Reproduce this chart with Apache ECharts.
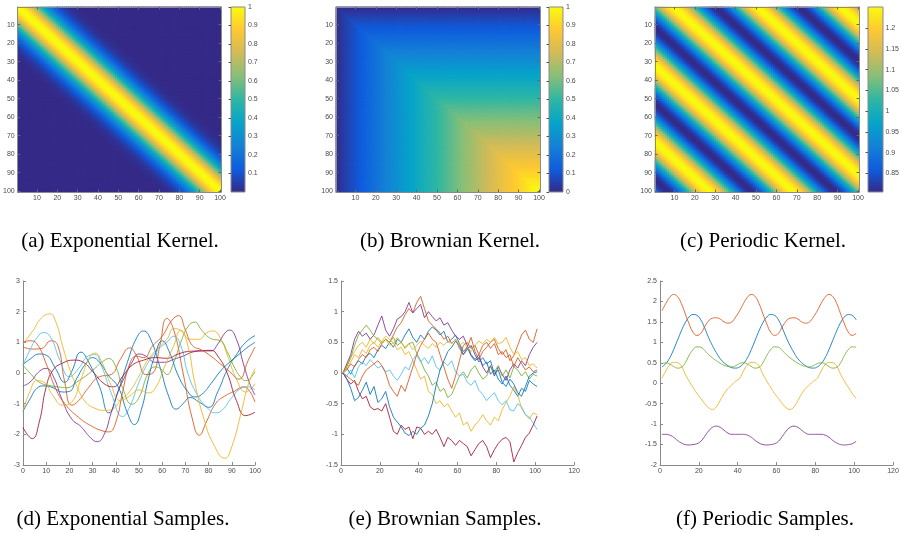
<!DOCTYPE html>
<html>
<head>
<meta charset="utf-8">
<script src="https://cdn.jsdelivr.net/npm/echarts@6/dist/echarts.min.js"></script>
<style>
html,body{margin:0;padding:0;background:#fff}
#main{width:902px;height:533px}
</style>
</head>
<body>
<div id="main"></div>
<script>
// kernel profiles
const expProfile = [1.00,0.994,0.976,0.946,0.906,0.857,0.80,0.739,0.674,0.607,0.539,0.474,0.411,0.353,0.298,0.249,0.206,0.168,0.135,0.108,0.085,0.066,0.05,0.038,0.029,0.021,0.015,0.011,0.008,0.006,0.004,0.003];
const brownProfile = [0.01,0.02,0.03,0.04,0.05,0.06,0.07,0.08,0.09,0.10,0.11,0.12,0.13,0.14,0.15,0.16,0.17,0.18,0.19,0.20,
  0.21,0.22,0.23,0.24,0.25,0.26,0.27,0.28,0.29,0.30,0.31,0.32,0.33,0.34,0.35,0.36,0.37,0.38,0.39,0.40,
  0.41,0.42,0.43,0.44,0.45,0.46,0.47,0.48,0.49,0.50,0.51,0.52,0.53,0.54,0.55,0.56,0.57,0.58,0.59,0.60,
  0.61,0.62,0.63,0.64,0.65,0.66,0.67,0.68,0.69,0.70,0.71,0.72,0.73,0.74,0.75,0.76,0.77,0.78,0.79,0.80,
  0.81,0.82,0.83,0.84,0.85,0.86,0.87,0.88,0.89,0.90,0.91,0.92,0.93,0.94,0.95,0.96,0.97,0.98,0.99,1.00];
const periodicProfile = [1.071,1.103,1.135,1.163,1.189,1.210,1.228,1.240,1.248,1.251,1.248,1.240,1.228,1.210,1.189,1.163,1.135,1.103,1.071,1.036,1.002,
  0.969,0.937,0.907,0.880,0.856,0.836,0.821,0.811,0.806,0.806,0.811,0.821,0.836,0.856,0.880,0.907,0.937,0.969,1.002,1.036];

const cbarTicksExp = [0, 1, 0.1];
const cbarTicksBrown = [0, 1, 0.1];
const cbarTicksPer = [0.8, 1.25, 0.05];

// (d) exponential samples  [x, y]
const expBlueA = [[0,0.27],[3,0.45],[7,0.62],[10,0.58],[14,0.15],[18,-0.3],[21,0.05],[25,0.68],[28,0.4],[33,-0.45],[37,-1.3],[41,-0.6],[45,0.35],[49,1.15],[52,1.37],[55,1.1],[59,0.2],[63,-0.8],[66,-1.18],[69,-1.0],[72,-0.8],[76,-0.95],[80,-1.12],[84,-0.6],[88,0.1],[92,0.6],[96,1.0],[100,1.22]];
const expOrangeA = [[0,0.85],[4,0.78],[8,0.8],[12,1.05],[15,0.9],[18,-0.3],[21,-1.05],[24,-0.9],[28,-0.5],[33,-0.12],[38,-0.05],[42,0.45],[46,0.82],[49,0.55],[53,-0.05],[56,0.0],[59,0.9],[62,1.78],[65,1.4],[69,0.0],[73,-1.5],[76,-2.03],[79,-1.6],[83,-1.0],[87,-0.75],[91,-0.6],[95,-0.45],[100,-0.95]];
const expYellowA = [[0,0.95],[4,1.35],[8,1.8],[11.5,1.93],[14,1.7],[17,0.9],[20,0.15],[23,-0.4],[27,-0.95],[31,-1.15],[35,-1.22],[38,-1.2],[42,-0.9],[46,-0.6],[50,-0.1],[54,0.45],[58,0.8],[62,1.1],[65,1.45],[68,1.38],[72,1.1],[76,1.1],[79,1.3],[82,1.37],[85,1.15],[88,0.6],[92,-0.2],[96,-0.62],[100,-0.35]];
const expPurple = [[0,-0.42],[3,-0.3],[7,0.05],[10,0.15],[13,-0.1],[17,-0.9],[21,-1.5],[25,-1.75],[29,-2.1],[32,-2.24],[35,-2.0],[38,-1.3],[41,-0.6],[44,-0.1],[47,0.35],[50,0.62],[53,0.55],[57,0.35],[61,0.35],[65,0.45],[69,0.55],[73,0.68],[77,0.72],[81,0.72],[84,0.95],[87,1.3],[89,1.4],[92,1.1],[95,0.3],[98,-0.4],[100,-0.72]];
const expGreen = [[0,0.25],[3,0.0],[7,-0.3],[11,-0.4],[15,-0.45],[19,-0.48],[23,-0.3],[27,-0.1],[31,0.15],[34,0.35],[37,0.47],[40,0.2],[43,-0.5],[47,-1.02],[50,-0.8],[54,0.0],[57,0.2],[60,0.1],[62,-0.05],[65,0.35],[68,1.0],[71,1.5],[74,1.66],[77,1.4],[81,1.12],[85,1.05],[88,0.7],[91,0.2],[94,-0.15],[96,-0.25],[100,0.05]];
const expLightBlue = [[0,0.25],[3,0.75],[6,1.15],[9,1.32],[12,1.15],[16,0.4],[20,-0.12],[24,0.15],[28,0.55],[31,0.6],[34,0.2],[38,-0.65],[43,-1.42],[46,-1.1],[50,-0.3],[54,0.35],[58,0.75],[62,1.0],[65,1.2],[68,0.9],[71,0.0],[75,-0.7],[79,-1.1],[83,-1.3],[86,-1.2],[90,-0.8],[94,-0.5],[97,-0.45],[100,-0.55]];
const expDarkRed = [[0,-1.78],[4,-2.14],[7,-1.6],[10,-0.45],[13,0.1],[17,0.32],[22,0.42],[26,0.35],[30,0.05],[35,-0.35],[39,-0.45],[43,-0.1],[47,0.25],[52,0.42],[57,0.5],[62,0.48],[67,0.62],[71,0.7],[76,0.72],[81,0.74],[84,0.55],[88,0.0],[92,-0.9],[96,-1.39],[100,-1.28]];
const expBlueB = [[0,-1.25],[3,-0.85],[6,-0.5],[9,-0.42],[13,-0.48],[17,-0.62],[20,-0.6],[23,-0.2],[27,0.3],[30,0.5],[33,0.35],[37,-0.1],[41,-0.45],[45,-1.3],[48,-1.68],[51,-1.2],[54,-0.2],[57,0.6],[60,1.05],[63,0.7],[67,-0.1],[71,-0.6],[74,-0.78],[77,-0.7],[81,-0.35],[85,0.05],[89,0.35],[93,0.6],[97,0.85],[100,1.0]];
const expOrangeB = [[0,1.0],[3,1.05],[6,0.95],[10,0.3],[14,-0.5],[18,-1.0],[24,-1.45],[30,-1.75],[34,-1.88],[37,-1.92],[40,-1.6],[43,-0.6],[46,0.3],[49,0.55],[52,0.5],[56,0.9],[60,1.2],[64,1.7],[67,1.87],[70,1.4],[73,0.9],[77,0.75],[81,0.55],[85,0.3],[89,0.05],[93,-0.2],[97,0.4],[100,0.85]];
const expYellowB = [[0,-1.25],[3,-0.6],[6,-0.25],[9,-0.3],[13,-0.75],[17,-1.05],[21,-0.95],[25,-0.2],[29,0.55],[31,0.65],[34,0.35],[38,-0.4],[42,-0.9],[46,-0.75],[50,-0.55],[54,-0.65],[57,-0.5],[61,0.2],[65,0.9],[68,1.4],[71,0.9],[74,-0.3],[78,-1.5],[82,-2.3],[87,-2.78],[90,-2.4],[94,-1.3],[97,-0.4],[100,0.15]];

// (e) brownian samples, at t = 1, 3, ..., 101
const brBlueA = [0,0.08,-0.02,0.12,0.2,0.15,0.28,0.32,0.25,0.38,0.45,0.4,0.5,0.42,0.55,0.5,0.62,0.72,0.58,0.5,0.62,0.55,0.68,0.75,0.7,0.62,0.68,0.5,0.55,0.62,0.48,0.35,0.42,0.28,0.2,0.25,0.12,0.18,-0.02,0.05,-0.1,-0.18,-0.05,-0.2,-0.28,-0.38,-0.25,-0.3,-0.12,-0.18,-0.22];
const brOrangeA = [0,0.05,0.15,0.1,0.22,0.3,0.25,0.38,0.42,0.35,0.48,0.55,0.5,0.62,0.75,0.82,0.95,1.05,0.98,1.15,1.25,1.05,0.85,0.78,0.72,0.65,0.55,0.6,0.48,0.55,0.4,0.3,0.42,0.58,0.35,0.22,0.35,0.42,0.5,0.55,0.4,0.3,0.38,0.2,0.28,0.45,0.62,0.7,0.55,0.5,0.72];
const brYellowA = [0,0.12,0.25,0.35,0.45,0.5,0.42,0.55,0.48,0.58,0.5,0.55,0.45,0.5,0.38,0.42,0.3,0.35,0.2,0.05,-0.1,-0.05,-0.3,-0.35,-0.5,-0.45,-0.55,-0.5,-0.62,-0.72,-0.65,-0.85,-0.8,-0.95,-0.85,-0.78,-0.68,-0.78,-0.85,-0.72,-0.78,-0.6,-0.48,-0.38,-0.22,-0.35,-0.58,-0.68,-0.75,-0.65,-0.68];
const brPurple = [0,0.15,0.3,0.55,0.68,0.6,0.65,0.55,0.62,0.78,0.93,0.7,0.6,0.72,0.88,0.92,1.0,1.15,0.98,1.05,1.12,0.9,1.0,0.92,0.85,0.9,0.78,0.82,0.7,0.6,0.55,0.6,0.45,0.3,0.22,0.3,0.1,0.0,0.12,-0.05,0.1,-0.02,-0.12,0.05,0.15,0.08,0.2,0.12,0.3,0.42,0.5];
const brGreen = [0,0.1,0.25,0.45,0.62,0.7,0.78,0.7,0.6,0.55,0.48,0.55,0.5,0.58,0.45,0.5,0.4,0.48,0.5,0.32,0.2,0.05,-0.05,-0.2,-0.15,-0.3,-0.25,-0.4,-0.35,-0.2,-0.05,0.02,-0.08,0.05,0.12,0.0,-0.1,-0.05,0.1,0.02,0.12,-0.05,0.05,-0.08,0.1,0.05,-0.05,0.02,-0.1,-0.02,-0.05];
const brLightBlue = [0,-0.05,0.05,-0.08,0.1,0.18,0.12,0.22,0.15,0.08,0.12,0.02,0.05,-0.05,-0.12,-0.02,0.1,0.05,0.22,0.3,0.18,0.25,0.15,0.28,0.1,0.05,0.18,0.12,0.2,0.02,-0.05,-0.02,-0.15,-0.2,-0.12,-0.28,-0.35,-0.45,-0.38,-0.32,-0.45,-0.52,-0.45,-0.6,-0.62,-0.5,-0.55,-0.68,-0.72,-0.82,-0.92];
const brDarkRed = [0,-0.1,-0.18,-0.12,-0.3,-0.42,-0.38,-0.55,-0.6,-0.58,-0.62,-0.5,-0.72,-0.95,-1.0,-0.85,-0.92,-0.88,-1.07,-0.88,-0.9,-1.0,-0.95,-1.0,-0.92,-1.05,-1.2,-1.05,-1.1,-1.18,-1.1,-1.15,-1.2,-1.35,-1.25,-1.15,-1.1,-1.2,-1.38,-1.25,-1.15,-1.08,-1.05,-1.12,-1.45,-1.3,-1.18,-1.05,-0.98,-0.85,-0.7];
const brBlueB = [0,-0.1,-0.25,-0.45,-0.4,-0.28,-0.15,-0.35,-0.22,-0.48,-0.42,-0.3,-0.55,-0.72,-0.8,-0.88,-0.98,-1.02,-0.95,-1.0,-0.9,-0.85,-0.7,-0.5,-0.2,0.05,0.2,0.35,0.42,0.52,0.45,0.3,0.38,0.45,0.3,0.18,0.25,0.15,0.2,-0.02,0.05,-0.15,-0.22,-0.1,-0.18,-0.32,-0.38,-0.22,-0.05,0.0,0.02];
const brOrangeB = [0,-0.05,-0.1,-0.15,-0.2,-0.05,0.05,0.1,0.15,0.2,0.12,0.0,-0.2,-0.3,-0.38,-0.2,-0.3,-0.1,0.1,0.3,0.45,0.55,0.65,0.55,0.5,0.3,0.1,-0.1,-0.25,-0.05,0.2,0.45,0.5,0.4,0.45,0.3,0.45,0.5,0.4,0.48,0.3,0.35,0.25,0.3,0.1,0.25,0.15,0.05,0.1,0.02,0.05];
const brYellowB = [0,0.08,0.18,0.3,0.25,0.38,0.32,0.45,0.5,0.42,0.52,0.6,0.55,0.48,0.58,0.5,0.42,0.48,0.38,0.45,0.52,0.45,0.4,0.48,0.42,0.5,0.45,0.52,0.48,0.55,0.45,0.5,0.42,0.35,0.45,0.52,0.48,0.55,0.5,0.58,0.48,0.5,0.58,0.42,0.3,0.35,0.22,0.25,0.12,0.15,0.08];

// (f) periodic samples, at t = 1, 3, ..., 101
const perBlue = [0.40,0.48,0.62,0.82,1.05,1.28,1.48,1.62,1.68,1.66,1.55,1.35,1.12,0.92,0.75,0.60,0.50,0.43,0.38,0.37,
  0.40,0.48,0.62,0.82,1.05,1.28,1.48,1.62,1.68,1.66,1.55,1.35,1.12,0.92,0.75,0.60,0.50,0.43,0.38,0.37,
  0.40,0.48,0.62,0.82,1.05,1.28,1.48,1.62,1.68,1.66,1.55];
const perOrange = [1.77,1.95,2.10,2.17,2.12,1.95,1.70,1.45,1.25,1.17,1.22,1.38,1.52,1.59,1.60,1.57,1.50,1.47,1.50,1.62,
  1.77,1.95,2.10,2.17,2.12,1.95,1.70,1.45,1.25,1.17,1.22,1.38,1.52,1.59,1.60,1.57,1.50,1.47,1.50,1.62,
  1.77,1.95,2.10,2.17,2.12,1.95,1.70,1.45,1.25,1.17,1.22];
const perYellow = [0.12,0.30,0.45,0.51,0.50,0.42,0.22,0.05,-0.10,-0.25,-0.37,-0.50,-0.60,-0.64,-0.58,-0.42,-0.26,-0.13,-0.04,0.05,
  0.12,0.30,0.45,0.51,0.50,0.42,0.22,0.05,-0.10,-0.25,-0.37,-0.50,-0.60,-0.64,-0.58,-0.42,-0.26,-0.13,-0.04,0.05,
  0.12,0.30,0.45,0.51,0.50,0.42,0.22,0.05,-0.10,-0.25,-0.37];
const perPurple = [-1.25,-1.25,-1.27,-1.32,-1.40,-1.46,-1.50,-1.51,-1.50,-1.48,-1.42,-1.30,-1.17,-1.08,-1.05,-1.08,-1.15,-1.22,-1.25,-1.25,
  -1.25,-1.25,-1.27,-1.32,-1.40,-1.46,-1.50,-1.51,-1.50,-1.48,-1.42,-1.30,-1.17,-1.08,-1.05,-1.08,-1.15,-1.22,-1.25,-1.25,
  -1.25,-1.25,-1.27,-1.32,-1.40,-1.46,-1.50,-1.51,-1.50,-1.48,-1.42];
const perGreen = [0.48,0.50,0.47,0.41,0.37,0.39,0.50,0.68,0.82,0.89,0.88,0.80,0.70,0.62,0.55,0.49,0.44,0.41,0.40,0.43,
  0.48,0.50,0.47,0.41,0.37,0.39,0.50,0.68,0.82,0.89,0.88,0.80,0.70,0.62,0.55,0.49,0.44,0.41,0.40,0.43,
  0.48,0.50,0.47,0.41,0.37,0.39,0.50,0.68,0.82,0.89,0.88];

const captions = ['(a) Exponential Kernel.','(b) Brownian Kernel.','(c) Periodic Kernel.',
  '(d) Exponential Samples.','(e) Brownian Samples.','(f) Periodic Samples.'];

const parula = ['#352a87','#0f5cdd','#1481d6','#06a4ca','#2eb7a4','#87bf77','#d1bb59','#fec832','#f9fb0e'];
const C = {blue:'#0072BD', orange:'#D95319', yellow:'#EDB120', purple:'#7E2F8E', green:'#77AC30', lblue:'#4DBEEE', red:'#A2142F'};

const N = 100;
const heatLabels = [];
for (let i = 1; i <= N; i++) heatLabels.push(String(i));
const stepT = [];
for (let t = 1; t <= 101; t += 2) stepT.push(t);

function buildMatrix(fn) {
  const d = [];
  for (let r = 1; r <= N; r++)
    for (let c = 1; c <= N; c++) d.push([c - 1, r - 1, fn(r, c)]);
  return d;
}
const expMatrix = buildMatrix((i, j) => expProfile[Math.min(Math.abs(i - j), expProfile.length - 1)]);
const brownMatrix = buildMatrix((i, j) => brownProfile[Math.min(i, j) - 1]);
const perMatrix = buildMatrix((i, j) => periodicProfile[(((j - i) % 41) + 41) % 41]);

const pairs = (ys) => ys.map((y, k) => [stepT[k], y]);

const gray = '#8a8a8a';
const lab = {fontSize: 7, color: '#4a4a4a', fontFamily: 'Liberation Sans'};
const every10 = (i) => (i + 1) % 10 === 0;

// layout
const heatGrids = [{left:17,top:7,width:204,height:185},{left:336,top:7,width:204,height:185},{left:655,top:7,width:204,height:185}];
const heatBg = ['#352a87', '#1481d6', '#2eb7a4'];
const cbarRects = [{x:231,y:7,w:14,h:185},{x:549,y:7,w:14,h:185},{x:868,y:7,w:15,h:185}];
const cbarGrids = [{left:231,top:7,width:14,height:185},{left:549,top:7,width:14,height:185},{left:868,top:7.6,width:15,height:186.4}];
const sampleGrids = [{left:23,top:281,width:232,height:184},{left:341,top:281,width:233,height:184},{left:660,top:281,width:233,height:184}];

const grid = [];
const xAxis = [];
const yAxis = [];

function catAxis(g, pos, showLabel, inverse) {
  return {
    type: 'category', gridIndex: g, position: pos, data: heatLabels, inverse: !!inverse,
    axisLine: {show: true, onZero: false, lineStyle: {color: gray, width: 1}},
    axisTick: {show: true, inside: true, length: 2.5, alignWithLabel: true, interval: every10, lineStyle: {color: '#666'}},
    axisLabel: Object.assign({show: showLabel, interval: every10, margin: 3}, lab),
    splitLine: {show: false}, z: 5
  };
}

heatGrids.forEach((h, k) => {
  const g = grid.length;
  grid.push(Object.assign({show: true, backgroundColor: heatBg[k], borderWidth: 0}, h));
  xAxis.push(catAxis(g, 'bottom', true));
  xAxis.push(catAxis(g, 'top', false));
  yAxis.push(catAxis(g, 'left', true, true));
  yAxis.push(catAxis(g, 'right', false, true));
});

const cbarTicks = [cbarTicksExp, cbarTicksBrown, cbarTicksPer];
cbarGrids.forEach((h, k) => {
  const g = grid.length;
  grid.push(h);
  const t = cbarTicks[k];
  xAxis.push({type: 'value', gridIndex: g, show: false, min: 0, max: 1});
  yAxis.push({
    type: 'value', gridIndex: g, position: 'right', min: t[0], max: t[1], interval: t[2], z: 10,
    axisLine: {show: false},
    axisTick: {show: true, inside: true, length: 2.5, lineStyle: {color: '#555'}},
    axisLabel: Object.assign({margin: 3, showMinLabel: k === 1, showMaxLabel: k !== 2,
      formatter: (v) => String(+(+v).toFixed(2))}, lab),
    splitLine: {show: false}
  });
});

const sampleRanges = [
  {x: [0, 100, 10], y: [-3, 3, 1]},
  {x: [0, 120, 20], y: [-1.5, 1.5, 0.5]},
  {x: [0, 120, 20], y: [-2, 2.5, 0.5]}
];
const sampleAxisIdx = [];
sampleGrids.forEach((h, k) => {
  const g = grid.length;
  grid.push(h);
  const r = sampleRanges[k];
  sampleAxisIdx.push(xAxis.length);
  xAxis.push({
    type: 'value', gridIndex: g, min: r.x[0], max: r.x[1], interval: r.x[2],
    axisLine: {show: true, onZero: false, lineStyle: {color: gray}},
    axisTick: {show: true, inside: true, length: 3, lineStyle: {color: gray}},
    axisLabel: Object.assign({margin: 3}, lab), splitLine: {show: false}
  });
  yAxis.push({
    type: 'value', gridIndex: g, min: r.y[0], max: r.y[1], interval: r.y[2],
    axisLine: {show: true, onZero: false, lineStyle: {color: gray}},
    axisTick: {show: true, inside: true, length: 3, lineStyle: {color: gray}},
    axisLabel: Object.assign({margin: 3}, lab), splitLine: {show: false}
  });
});

// each heat map is drawn twice so the sub-pixel seams between cells close up
const series = [];
[expMatrix, brownMatrix, perMatrix].forEach((m, k) => {
  for (let layer = 0; layer < 2; layer++) {
    series.push({
      type: 'heatmap', xAxisIndex: 2 * k, yAxisIndex: 2 * k, data: m,
      progressive: 0, silent: true, itemStyle: {borderWidth: 0}, emphasis: {disabled: true}
    });
  }
});

function line(panel, data, color, smooth) {
  const a = sampleAxisIdx[panel];
  series.push({
    type: 'line', xAxisIndex: a, yAxisIndex: a, data: data, symbol: 'none', smooth: smooth,
    silent: true, lineStyle: {color: color, width: 1, opacity: 0.85}, itemStyle: {color: color}
  });
}
[[expBlueA, C.blue], [expOrangeA, C.orange], [expYellowA, C.yellow], [expPurple, C.purple], [expGreen, C.green],
 [expLightBlue, C.lblue], [expDarkRed, C.red], [expBlueB, C.blue], [expOrangeB, C.orange], [expYellowB, C.yellow]]
  .forEach(([d, c]) => line(0, d, c, 0.5));
[[brBlueA, C.blue], [brOrangeA, C.orange], [brYellowA, C.yellow], [brPurple, C.purple], [brGreen, C.green],
 [brLightBlue, C.lblue], [brDarkRed, C.red], [brBlueB, C.blue], [brOrangeB, C.orange], [brYellowB, C.yellow]]
  .forEach(([d, c]) => line(1, pairs(d), c, false));
[[perBlue, C.blue], [perOrange, C.orange], [perYellow, C.yellow], [perPurple, C.purple], [perGreen, C.green]]
  .forEach(([d, c]) => line(2, pairs(d), c, 0.5));

const visualMap = [
  {min: 0.003, max: 1, seriesIndex: [0, 1]},
  {min: 0, max: 1, seriesIndex: [2, 3]},
  {min: 0.805, max: 1.2515, seriesIndex: [4, 5]}
].map((v) => Object.assign({type: 'continuous', show: false, calculable: false, inRange: {color: parula}}, v));

const stops = parula.map((c, i) => ({offset: i / (parula.length - 1), color: c}));
const graphic = [];
cbarRects.forEach((r) => {
  graphic.push({
    type: 'rect', shape: {x: r.x, y: r.y, width: r.w, height: r.h}, z: 1,
    style: {fill: new echarts.graphic.LinearGradient(0, 1, 0, 0, stops), stroke: gray, lineWidth: 1}
  });
});
const capPos = [[120, 241], [450, 241], [763, 241], [123, 519], [445, 519], [765, 519]];
captions.forEach((t, i) => {
  graphic.push({
    type: 'text', x: capPos[i][0], y: capPos[i][1],
    style: {text: t, font: '21px "Liberation Serif"', fill: '#000', textAlign: 'center', textVerticalAlign: 'middle'}
  });
});

const chart = echarts.init(document.getElementById('main'), null, {renderer: 'canvas'});
chart.setOption({
  animation: false,
  backgroundColor: '#fff',
  grid: grid,
  xAxis: xAxis,
  yAxis: yAxis,
  visualMap: visualMap,
  series: series,
  graphic: graphic
});
</script>
</body>
</html>
